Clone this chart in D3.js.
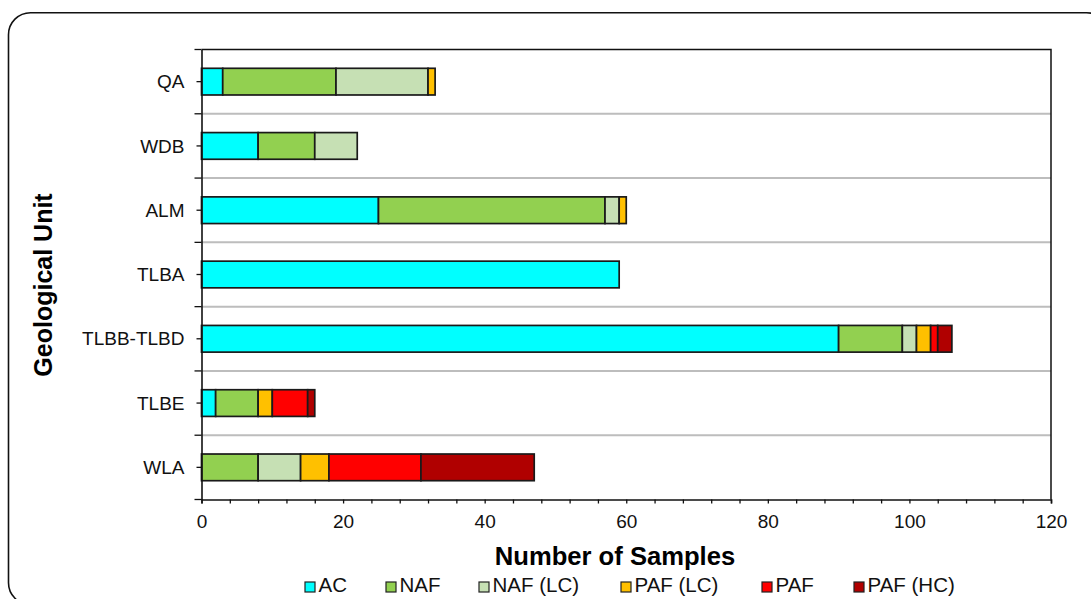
<!DOCTYPE html>
<html>
<head>
<meta charset="utf-8">
<script src="https://cdn.jsdelivr.net/npm/d3@7/dist/d3.min.js"></script>
<style>
  html, body { margin: 0; padding: 0; background: #fff; }
  svg { display: block; font-family: "Liberation Sans", Arial, sans-serif; }
</style>
</head>
<body>
<svg id="chart" width="1091" height="599"></svg>
<script>
// ---- data ----
const categories = ["QA", "WDB", "ALM", "TLBA", "TLBB-TLBD", "TLBE", "WLA"];
const seriesNames = ["AC", "NAF", "NAF (LC)", "PAF (LC)", "PAF", "PAF (HC)"];
const AC      = [3, 8, 25, 59, 90, 2, 0];
const NAF     = [16, 8, 32, 0, 9, 6, 8];
const NAF_LC  = [13, 6, 2, 0, 2, 0, 6];
const PAF_LC  = [1, 0, 1, 0, 2, 2, 4];
const PAF     = [0, 0, 0, 0, 1, 5, 13];
const PAF_HC  = [0, 0, 0, 0, 2, 1, 16];
const xTicks  = [0, 20, 40, 60, 80, 100, 120];
const seriesColors = ["#00FFFF", "#92D050", "#C6E0B4", "#FFC000", "#FF0000", "#B00000"];

const seriesValues = [AC, NAF, NAF_LC, PAF_LC, PAF, PAF_HC];
const rows = categories.map((c, i) => {
  const r = { cat: c };
  seriesNames.forEach((s, j) => r[s] = seriesValues[j][i]);
  return r;
});

const svg = d3.select("#chart");

// outer rounded border
svg.append("rect")
  .attr("x", 8.5).attr("y", 12.7).attr("width", 1100).attr("height", 592)
  .attr("rx", 22).attr("ry", 22)
  .attr("fill", "#fff").attr("stroke", "#111").attr("stroke-width", 1.6);

const plot = { left: 201.5, right: 1051, top: 49.5, bottom: 499.5 };

const x = d3.scaleLinear().domain([0, 120]).range([plot.left, plot.right]);
const y = d3.scaleBand().domain(categories).range([plot.top, plot.bottom]).paddingInner(0).paddingOuter(0);

// gridlines at band boundaries
const boundaries = categories.slice(1).map(c => y(c));
svg.append("g").selectAll("line").data(boundaries).join("line")
  .attr("x1", plot.left).attr("x2", plot.right)
  .attr("y1", d => d).attr("y2", d => d)
  .attr("stroke", "#BDBDBD").attr("stroke-width", 2);

// plot frame (top and right)
svg.append("path")
  .attr("d", `M${plot.left},${plot.top}H${plot.right}V${plot.bottom}`)
  .attr("fill", "none").attr("stroke", "#111").attr("stroke-width", 1.5);

// stacked bars
const stack = d3.stack().keys(seriesNames);
const stacked = stack(rows);
const barH = y.bandwidth() * 0.415;

svg.append("g").selectAll("g").data(stacked).join("g")
  .attr("fill", (d, i) => seriesColors[i])
  .selectAll("rect")
  .data(d => d.filter(s => s[1] - s[0] > 0))
  .join("rect")
  .attr("x", d => x(d[0]))
  .attr("width", d => x(d[1]) - x(d[0]))
  .attr("y", d => y(d.data.cat) + (y.bandwidth() - barH) / 2)
  .attr("height", barH)
  .attr("stroke", "#1a1a1a").attr("stroke-width", 1.7);

// x axis: minor ticks every 4, labels every 20
const xMinor = d3.range(0, 121, 4);
const xAxisG = svg.append("g").attr("transform", `translate(0,${plot.bottom})`)
  .call(d3.axisBottom(x).tickValues(xMinor).tickSize(4)
        .tickFormat(d => xTicks.includes(d) ? d : ""));
xAxisG.select(".domain").attr("stroke", "#111").attr("stroke-width", 1.6);
xAxisG.selectAll(".tick line").attr("stroke", "#111").attr("stroke-width", 1.3);
xAxisG.selectAll(".tick text")
  .attr("y", 28.5).attr("dy", 0)
  .attr("font-size", 19).attr("fill", "#111")
  .attr("font-family", "'Liberation Sans', Arial, sans-serif");

// y axis
const yAxisG = svg.append("g").attr("transform", `translate(${plot.left},0)`)
  .call(d3.axisLeft(y).tickSize(5).tickPadding(12).tickSizeOuter(0));
yAxisG.select(".domain").attr("stroke", "#111").attr("stroke-width", 1.6);
yAxisG.selectAll(".tick line").attr("stroke", "#111").attr("stroke-width", 1.3);
yAxisG.selectAll(".tick text")
  .attr("font-size", 19).attr("fill", "#111").attr("dy", "0.35em")
  .attr("font-family", "'Liberation Sans', Arial, sans-serif");
// boundary ticks
svg.append("g").selectAll("line").data([plot.top, ...boundaries, plot.bottom]).join("line")
  .attr("x1", plot.left - 7).attr("x2", plot.left)
  .attr("y1", d => d).attr("y2", d => d)
  .attr("stroke", "#111").attr("stroke-width", 1.3);

// axis titles
svg.append("text")
  .attr("x", 615).attr("y", 565)
  .attr("text-anchor", "middle")
  .attr("font-size", 25.6).attr("font-weight", "bold").attr("fill", "#000")
  .text("Number of Samples");

svg.append("text")
  .attr("transform", "translate(52,285) rotate(-90)")
  .attr("text-anchor", "middle")
  .attr("font-size", 25).attr("font-weight", "bold").attr("fill", "#000")
  .text("Geological Unit");

// legend
const legendX = [305, 386, 479, 621, 762, 854];
const legend = svg.append("g");
seriesNames.forEach((name, i) => {
  const lx = legendX[i];
  legend.append("rect")
    .attr("x", lx).attr("y", 582).attr("width", 10).attr("height", 10)
    .attr("fill", seriesColors[i]).attr("stroke", "#222").attr("stroke-width", 1.2);
  legend.append("text")
    .attr("x", lx + 13.5).attr("y", 591.5)
    .attr("font-size", 20.5).attr("fill", "#111")
    .text(name);
});
</script>
</body>
</html>
